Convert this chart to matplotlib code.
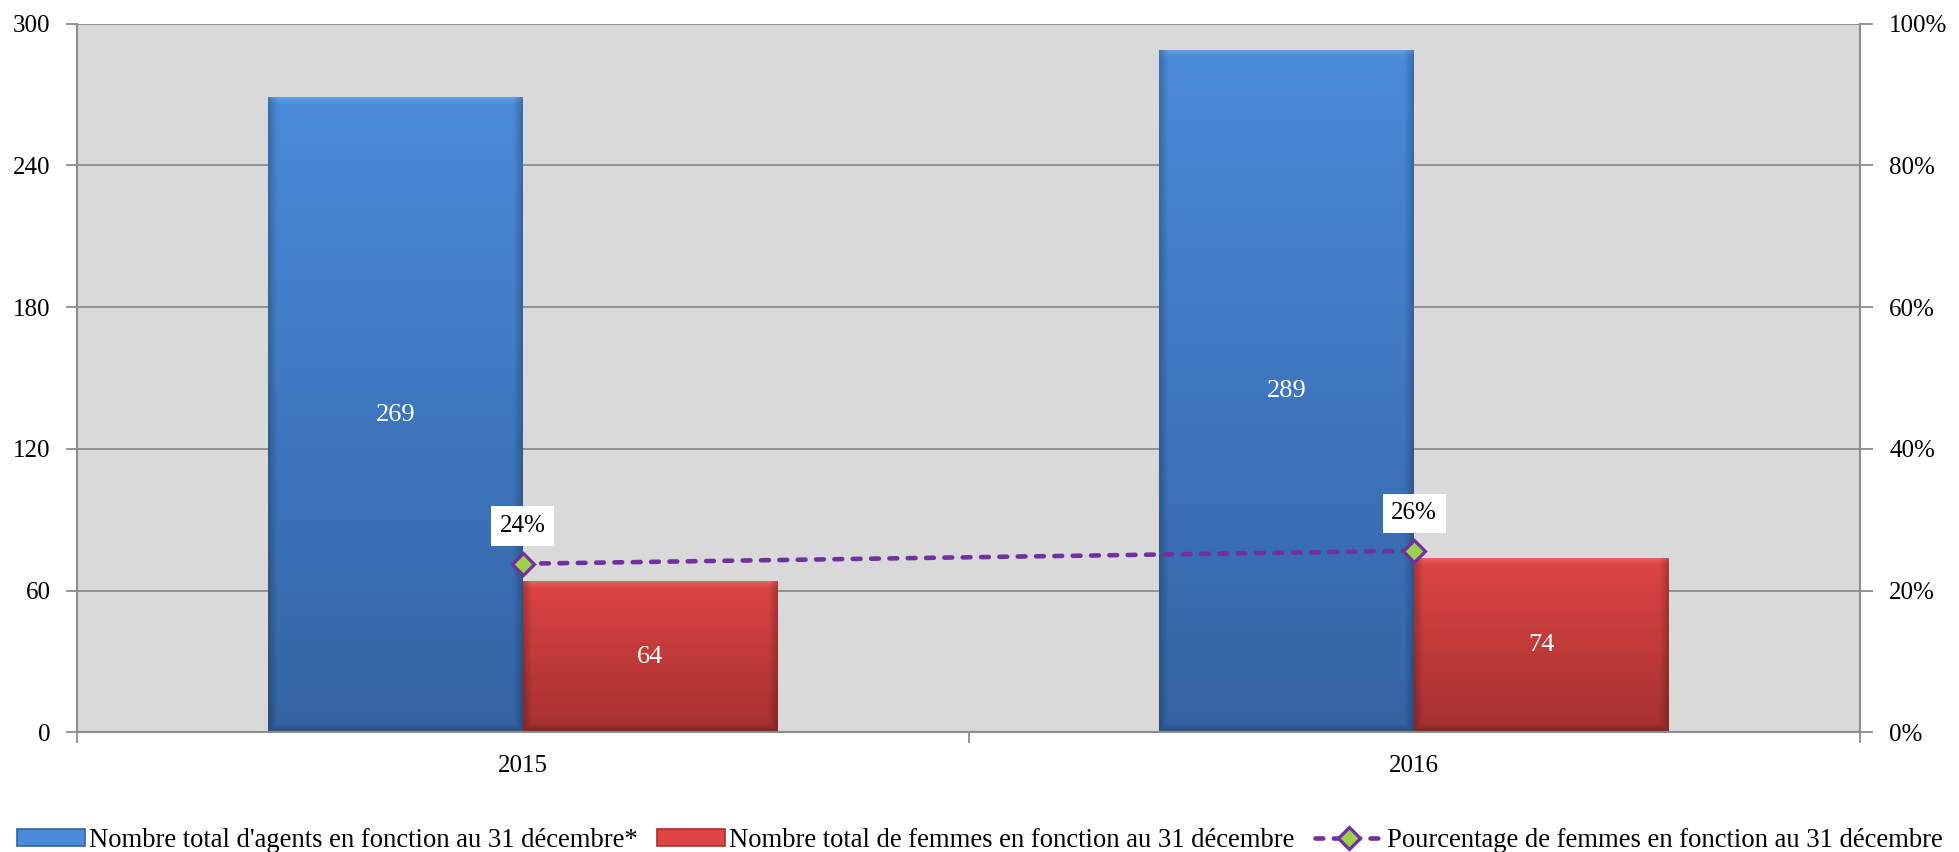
import numpy as np
import matplotlib
matplotlib.use("Agg")
import matplotlib.pyplot as plt
from matplotlib.patches import Patch
from matplotlib.lines import Line2D
from matplotlib.colors import to_rgb

# Data
years = ["2015", "2016"]
agents_total = [269, 289]
women_total = [64, 74]
women_share = [w / t for w, t in zip(women_total, agents_total)]

labels = [
    "Nombre total d'agents en fonction au 31 décembre*",
    "Nombre total de femmes en fonction au 31 décembre",
    "Pourcentage de femmes en fonction au 31 décembre",
]

plt.rcParams["font.family"] = ["Liberation Serif", "DejaVu Serif"]
FS = 18
FS_LEG = 19.2

BLUE_TOP, BLUE_BOT, BLUE_HI = "#4A8BDA", "#3463A3", "#7DB4F2"
RED_TOP, RED_BOT, RED_HI = "#DC4543", "#A53130", "#F58585"
PURPLE = "#7030A0"
GREEN = "#9BD14B"
GRID = "#8C8C8C"

fig = plt.figure(figsize=(19.59, 8.52), dpi=100)
ax = fig.add_axes([0.0393, 0.1405, 0.9102, 0.8317])
ax.set_facecolor("#D9D9D9")

x = np.arange(len(years))
w = 0.286
bars_a = ax.bar(x - w / 2, agents_total, w, color=BLUE_TOP, zorder=2, linewidth=0)
bars_w = ax.bar(x + w / 2, women_total, w, color=RED_TOP, zorder=2, linewidth=0)

ax.set_xlim(-0.5, len(years) - 0.5)
ax.set_ylim(0, 300)
ax.set_yticks(np.arange(0, 301, 60))
ax.yaxis.grid(True, color=GRID, linewidth=1.3, zorder=0)
ax.set_axisbelow(True)

ax.set_xticks(x)
ax.set_xticklabels(years, fontsize=FS)
ax.set_xticks(np.arange(-0.5, len(years), 1.0), minor=True)
ax.tick_params(axis="x", which="major", length=0, pad=16)
ax.tick_params(axis="x", which="minor", length=8, width=1.3, color=GRID, direction="out")
ax.tick_params(axis="y", length=8, width=1.3, color=GRID, pad=11, labelsize=FS)

for side in ("left", "bottom"):
    ax.spines[side].set_color(GRID)
    ax.spines[side].set_linewidth(1.5)
ax.spines["top"].set_visible(False)
ax.spines["right"].set_visible(False)


def bevel_image(top, bottom, hi, wpx, hpx, edge=9):
    """Vertical gradient with a soft bevel around the bar edges."""
    wpx, hpx = max(int(wpx), 2), max(int(hpx), 2)
    t = np.linspace(0, 1, hpx)[:, None]
    c0, c1, ch = np.array(to_rgb(top)), np.array(to_rgb(bottom)), np.array(to_rgb(hi))
    img = (1 - t)[..., None] * c0 + t[..., None] * c1
    img = np.repeat(img, wpx, axis=1)
    yy = np.arange(hpx)[:, None] * np.ones((1, wpx))
    xx = np.ones((hpx, 1)) * np.arange(wpx)[None, :]
    # top highlight
    top_f = np.clip(1 - yy / edge, 0, 1) ** 1.5
    img = img * (1 - 0.55 * top_f[..., None]) + ch * (0.55 * top_f[..., None])
    # darker sides and bottom
    side = np.maximum(np.clip(1 - xx / edge, 0, 1), np.clip(1 - (wpx - 1 - xx) / edge, 0, 1))
    bot = np.clip(1 - (hpx - 1 - yy) / edge, 0, 1)
    dark = np.maximum(side, bot) * 0.22
    img = img * (1 - dark[..., None])
    return np.clip(img, 0, 1)


fig.canvas.draw()
for bars, (ct, cb, ch) in ((bars_a, (BLUE_TOP, BLUE_BOT, BLUE_HI)),
                           (bars_w, (RED_TOP, RED_BOT, RED_HI))):
    for b in bars:
        x0, y0, bw, bh = b.get_x(), b.get_y(), b.get_width(), b.get_height()
        p0 = ax.transData.transform((x0, y0))
        p1 = ax.transData.transform((x0 + bw, y0 + bh))
        img = bevel_image(ct, cb, ch, p1[0] - p0[0], p1[1] - p0[1])
        im = ax.imshow(img, extent=(x0, x0 + bw, y0, y0 + bh), aspect="auto",
                       interpolation="bilinear", zorder=2.5)
        im.set_clip_path(b)

ax.set_xlim(-0.5, len(years) - 0.5)
ax.set_ylim(0, 300)

# Value labels inside bars
for bars, vals in ((bars_a, agents_total), (bars_w, women_total)):
    for b, v in zip(bars, vals):
        ax.text(b.get_x() + b.get_width() / 2, v / 2, f"{v}", ha="center", va="center",
                color="white", fontsize=19, zorder=4)

# Percentage line on secondary axis
ax2 = ax.twinx()
ax2.set_ylim(0, 1)
ax2.set_yticks(np.arange(0, 1.01, 0.2))
ax2.set_yticklabels([f"{int(round(v * 100))}%" for v in np.arange(0, 1.01, 0.2)], fontsize=FS)
ax2.tick_params(axis="y", length=9, width=1.3, color=GRID, pad=12)
for side in ("left", "bottom", "top"):
    ax2.spines[side].set_visible(False)
ax2.spines["right"].set_color(GRID)
ax2.spines["right"].set_linewidth(1.5)

line_style = dict(color=PURPLE, linewidth=3.3, marker="D", markersize=11,
                  markerfacecolor=GREEN, markeredgecolor=PURPLE, markeredgewidth=2.3,
                  dash_capstyle="round", dashes=[1.7, 2.3])
ax2.plot(x, women_share, zorder=5, **line_style)

for xi, v in zip(x, women_share):
    ax2.annotate(f"{v:.0%}", (xi, v), xytext=(0, 27), textcoords="offset points",
                 ha="center", va="center", fontsize=FS, color="black", zorder=6,
                 bbox=dict(boxstyle="square,pad=0.35", fc="white", ec="none"))

# Legend
h_blue = Patch(facecolor=BLUE_TOP, edgecolor=BLUE_BOT, linewidth=1.2)
h_red = Patch(facecolor=RED_TOP, edgecolor=RED_BOT, linewidth=1.2)
h_line = Line2D([0], [0], **line_style)
fig.legend([h_blue, h_red, h_line], labels, loc="center", bbox_to_anchor=(0.5, 0.014),
           ncol=3, frameon=False, fontsize=FS_LEG, handlelength=2.55, handleheight=0.6,
           handletextpad=0.15, columnspacing=0.75, borderaxespad=0, borderpad=0)

fig.savefig("out.png", dpi=100)
